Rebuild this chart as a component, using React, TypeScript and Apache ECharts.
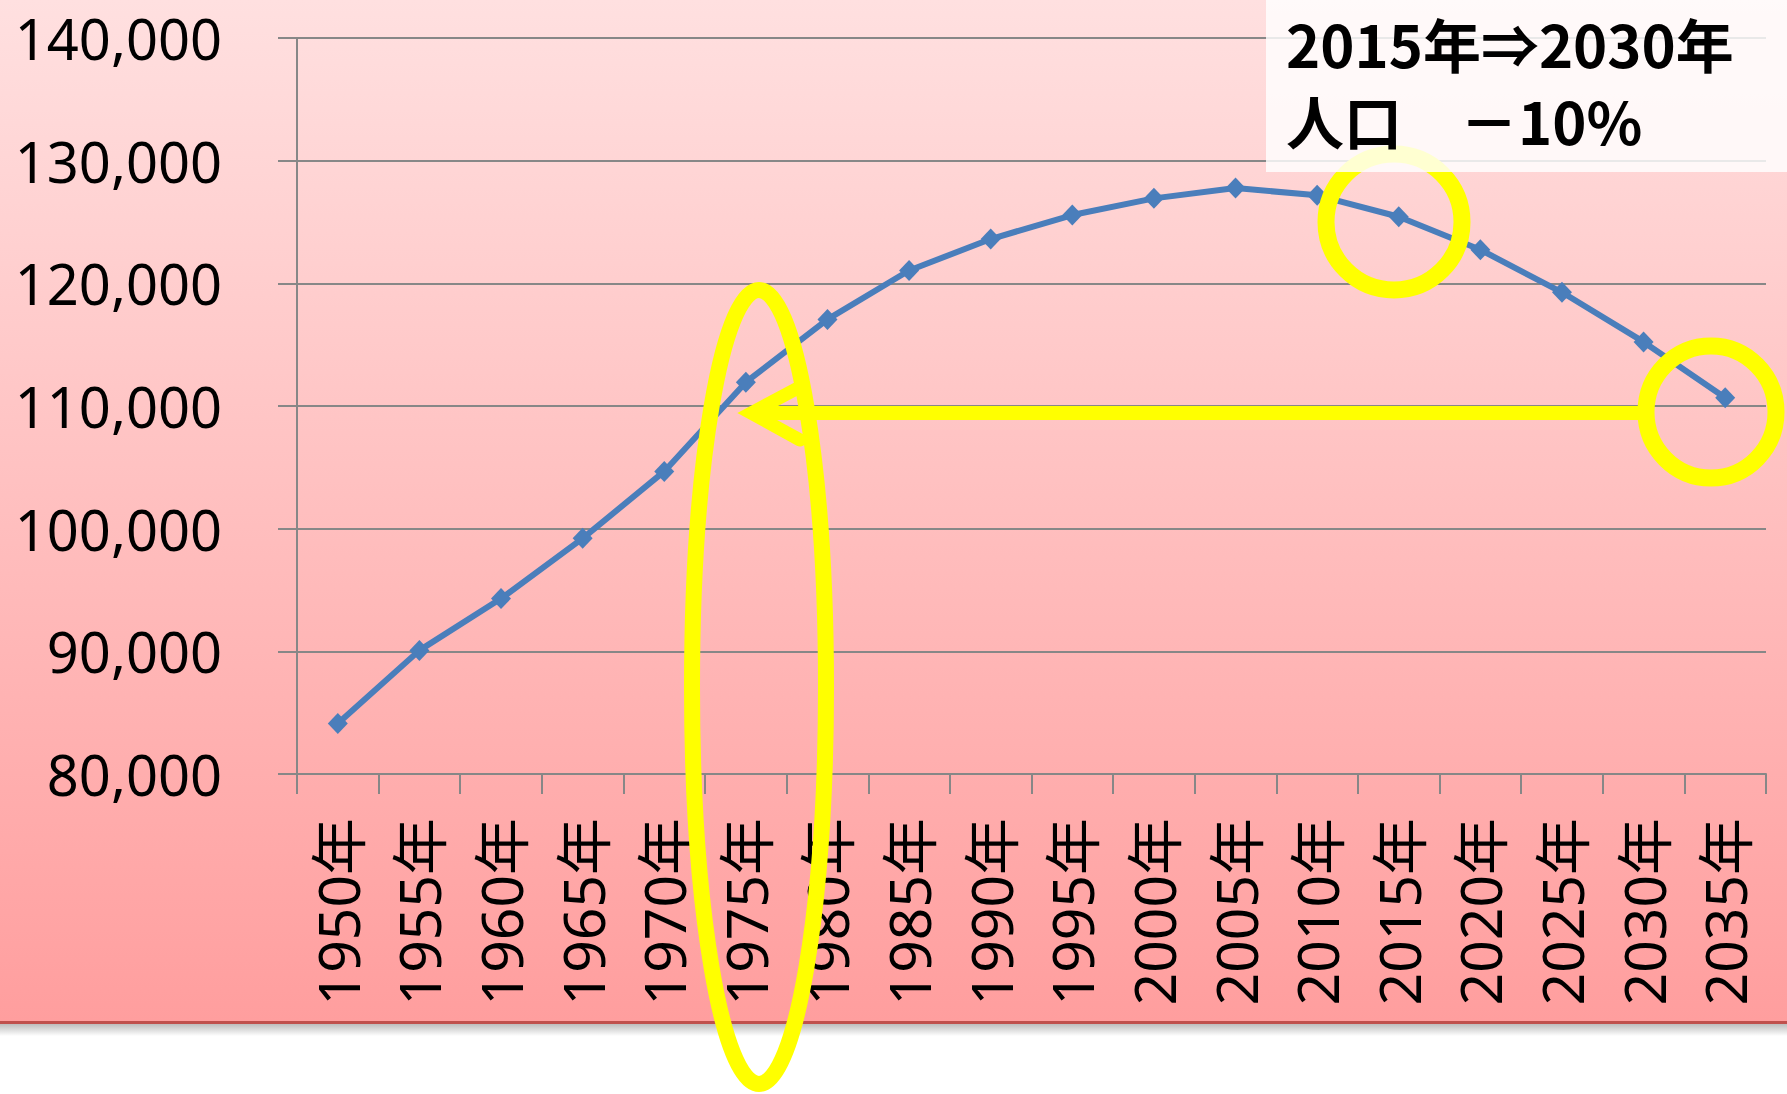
import React, { useEffect, useRef } from "react";
import * as echarts from "echarts";

const years = ["1950", "1955", "1960", "1965", "1970", "1975", "1980", "1985", "1990", "1995", "2000", "2005", "2010", "2015", "2020", "2025", "2030", "2035"];
const categories = years.map((y) => y + "年");
const population = [84115, 90077, 94302, 99209, 104665, 111940, 117060, 121049, 123611, 125570, 126926, 127768, 127176, 125430, 122735, 119270, 115224, 110679];
const yMin = 80000;
const yMax = 140000;
const yStep = 10000;
const noteLine1 = "2015年⇒2030年";
const noteLine2 = "人口　－10%";

const YELLOW = "#FFFF00";
const GRID = "#878787";

export default function App() {
  const ref = useRef<HTMLDivElement>(null);
  useEffect(() => {
    if (!ref.current) return;
    const chart = echarts.init(ref.current, undefined, { renderer: "svg" });
    chart.setOption({
      animation: false,
      backgroundColor: "transparent",
      grid: { left: 297, right: 21, top: 38, bottom: 320, containLabel: false },
      xAxis: {
        type: "category",
        data: categories,
        boundaryGap: true,
        axisLine: { show: true, lineStyle: { color: GRID, width: 2 } },
        axisTick: { show: true, alignWithLabel: false, length: 20, lineStyle: { color: GRID, width: 2 } },
        axisLabel: {
          interval: 0,
          rotate: 90,
          margin: 44,
          fontSize: 57,
          color: "#000",
          fontFamily: "'Noto Sans', 'Noto Sans CJK JP', sans-serif",
        },
      },
      yAxis: {
        type: "value",
        min: yMin,
        max: yMax,
        interval: yStep,
        axisLine: { show: true, lineStyle: { color: GRID, width: 2 } },
        axisTick: { show: true, length: 19, lineStyle: { color: GRID, width: 2 } },
        splitLine: { show: true, lineStyle: { color: GRID, width: 2 } },
        axisLabel: {
          margin: 75,
          fontSize: 56,
          color: "#000",
          padding: [0, 0, 7, 0],
          fontFamily: "'Noto Sans', sans-serif",
          formatter: (v: number) => v.toLocaleString("en-US"),
        },
      },
      series: [
        {
          type: "line",
          data: population,
          symbol: "diamond",
          symbolSize: [20, 21],
          showSymbol: true,
          lineStyle: { color: "#4A7EBB", width: 6 },
          itemStyle: { color: "#4A7EBB" },
          z: 3,
        },
      ],
      graphic: [
        {
          type: "ellipse",
          z: 100,
          shape: { cx: 759, cy: 687, rx: 67, ry: 397 },
          style: { fill: "none", stroke: YELLOW, lineWidth: 16 },
        },
        {
          type: "ellipse",
          z: 100,
          shape: { cx: 1394, cy: 222, rx: 68, ry: 68 },
          style: { fill: "none", stroke: YELLOW, lineWidth: 17 },
        },
        {
          type: "ellipse",
          z: 100,
          shape: { cx: 1711, cy: 412, rx: 65, ry: 66 },
          style: { fill: "none", stroke: YELLOW, lineWidth: 17 },
        },
        {
          type: "line",
          z: 100,
          shape: { x1: 752, y1: 413, x2: 1642, y2: 413 },
          style: { stroke: YELLOW, lineWidth: 14 },
        },
        {
          type: "polyline",
          z: 100,
          shape: { points: [[798, 388], [751, 413], [800, 440]] },
          style: { fill: "none", stroke: YELLOW, lineWidth: 13, lineJoin: "miter", lineCap: "round" },
        },
        {
          type: "rect",
          z: 110,
          shape: { x: 1266, y: 0, width: 521, height: 172 },
          style: { fill: "rgba(255,255,255,0.82)" },
        },
        {
          type: "text",
          z: 120,
          x: 1286,
          y: 43,
          style: {
            text: noteLine1,
            font: "bold 58px 'Noto Sans CJK JP', sans-serif",
            fill: "#000",
            textAlign: "left",
            textVerticalAlign: "middle",
          },
        },
        {
          type: "text",
          z: 120,
          x: 1286,
          y: 120,
          style: {
            text: noteLine2,
            font: "bold 58px 'Noto Sans CJK JP', sans-serif",
            fill: "#000",
            textAlign: "left",
            textVerticalAlign: "middle",
          },
        },
      ],
    });
    return () => chart.dispose();
  }, []);
  return (
    <div
      style={{
        position: "absolute",
        left: 0,
        top: 0,
        width: 1787,
        height: 1094,
        background:
          "linear-gradient(to bottom, #FFE0E0 0px, #FF9E9E 1021px, #C0504D 1021px, #C0504D 1024px, #BDBDBD 1024px, #FFFFFF 1036px, #FFFFFF 1094px)",
      }}
    >
      <div ref={ref} style={{ width: 1787, height: 1094 }} />
    </div>
  );
}
